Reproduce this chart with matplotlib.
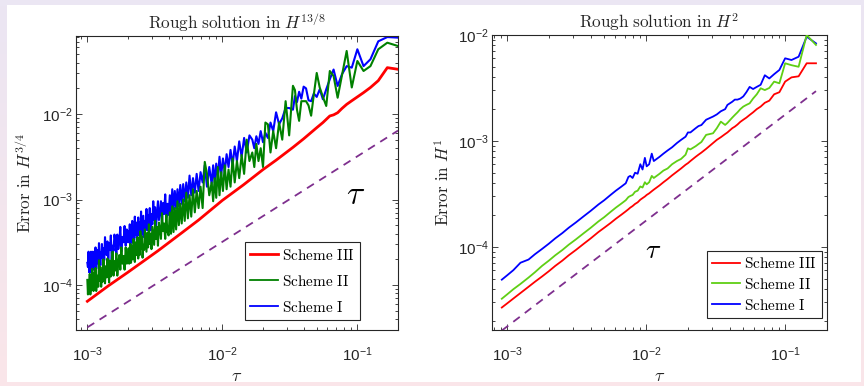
import numpy as np
import matplotlib
matplotlib.use("Agg")
import matplotlib.pyplot as plt
from matplotlib.patches import Rectangle

plt.rcParams['font.family'] = ['Liberation Sans', 'DejaVu Sans']
plt.rcParams['mathtext.fontset'] = 'cm'

# ---------------- data (errors given as log10 values) -------------
# Left panel: rough solution in H^{13/8}, error in H^{3/4};  tau = 1/N
left_noisy_steps = [5, 6, 7, 8, 9, 10, 11, 12, 13, 14, 15, 16, 17, 18, 19, 20, 21, 22, 23, 24, 25, 26, 27, 28, 29, 30,
                    32, 34, 36, 38, 40, 42, 44, 46, 48, 50, 52, 54, 56, 58, 60,
                    63, 66, 69, 72, 75, 78, 81, 84, 87, 90, 93, 96, 99, 102, 105, 108, 111, 114, 117, 120,
                    125, 130, 135, 140, 145, 150, 155, 160, 165, 170, 175, 180, 185, 190, 195, 200, 205, 210,
                    215, 220, 225, 230, 235, 240, 245, 250,
                    255, 260, 265, 270, 275, 280, 285, 290, 295, 300, 305, 310, 315, 320, 325, 330, 335, 340,
                    345, 350, 355, 360, 365, 370, 375, 380, 385, 390, 395, 400, 405, 410, 415, 420, 425, 430,
                    435, 440, 445, 450, 455, 460, 465, 470, 475, 480, 485, 490, 495, 500,
                    510, 520, 530, 540, 550, 560, 570, 580, 590, 600, 610, 620, 630, 640, 650, 660, 670, 680,
                    690, 700, 710, 720, 730, 740, 750, 760, 770, 780, 790, 800, 810, 820, 830, 840, 850, 860,
                    870, 880, 890, 900, 910, 920, 930, 940, 950, 960, 970, 980, 990, 1000]
left_scheme1_log10 = [-1.107, -1.10, -1.15, -1.36, -1.44, -1.243, -1.458, -1.44, -1.535, -1.672, -1.48, -1.594, -1.711,
                      -1.828, -1.711, -1.80, -1.76, -1.85, -1.84, -1.70, -1.68, -1.82, -1.74, -1.86, -1.79, -1.95,
                      -1.93, -1.93, -2.05, -2.12, -1.98, -2.20, -2.10, -2.28, -2.22, -2.33, -2.20, -2.35, -2.26, -2.40, -2.30,
                      -2.25, -2.45, -2.28, -2.50, -2.32, -2.55, -2.38, -2.60, -2.42, -2.62, -2.47, -2.68, -2.52, -2.72,
                      -2.50, -2.75, -2.58, -2.80, -2.60, -2.82,
                      -2.62, -2.85, -2.60, -2.80, -2.68, -2.90, -2.70, -2.92, -2.75, -2.95, -2.72, -2.98, -2.80, -3.02,
                      -2.82, -3.05, -2.83, -3.08, -2.88, -3.10, -2.90, -3.12, -2.88, -3.15, -2.95, -3.18,
                      -3.05, -3.21, -2.94, -3.17, -3.04, -3.27, -3.02, -3.16, -3.24, -3.02, -3.17, -3.31, -3.09, -3.24,
                      -3.02, -3.29, -3.17, -3.36, -3.10, -3.27, -3.18, -3.36, -3.11, -3.34, -3.25, -3.44, -3.19, -3.30,
                      -3.42, -3.14, -3.35, -3.27, -3.42, -3.21, -3.33, -3.48, -3.27, -3.41, -3.20, -3.45, -3.34, -3.50,
                      -3.25, -3.41, -3.33, -3.53, -3.29, -3.46, -3.37, -3.50,
                      -3.35, -3.54, -3.31, -3.50, -3.44, -3.61, -3.32, -3.50, -3.58, -3.41, -3.64, -3.48, -3.41, -3.60,
                      -3.54, -3.70, -3.42, -3.59, -3.51, -3.70, -3.49, -3.65, -3.59, -3.44, -3.71, -3.57, -3.77, -3.52,
                      -3.68, -3.62, -3.77, -3.51, -3.75, -3.59, -3.69, -3.81, -3.56, -3.75, -3.66, -3.82, -3.61, -3.74,
                      -3.86, -3.61, -3.80, -3.67, -3.85, -3.61, -3.79, -3.74]
left_scheme2_log10 = [-1.205, -1.166, -1.243, -1.44, -1.497, -1.38, -1.69, -1.263, -1.55, -1.81, -1.556, -1.497, -1.906,
                      -1.80, -1.69, -1.52, -1.77, -2.02, -1.90, -1.85, -1.85, -1.85, -2.08, -1.95, -1.72, -1.67,
                      -2.25, -1.85, -2.30, -2.10, -2.40, -2.20, -2.45, -2.12, -2.10, -2.62, -2.40, -2.55, -2.35, -2.62, -2.45,
                      -2.55, -2.30, -2.70, -2.48, -2.75, -2.55, -2.80, -2.52, -2.85, -2.65, -2.88, -2.60, -2.90, -2.68,
                      -2.95, -2.62, -2.98, -2.75, -3.02, -2.80,
                      -2.95, -2.70, -2.56, -3.10, -2.85, -3.10, -2.90, -3.15, -2.88, -3.20, -2.95, -3.22, -2.92, -3.25,
                      -3.00, -3.28, -3.05, -3.30, -3.02, -3.35, -3.10, -3.38, -3.08, -3.40, -3.15, -3.42,
                      -3.38, -3.18, -3.46, -3.28, -3.37, -3.16, -3.46, -3.35, -3.27, -3.54, -3.32, -3.46, -3.25, -3.53,
                      -3.43, -3.32, -3.58, -3.40, -3.52, -3.29, -3.56, -3.39, -3.61, -3.47, -3.35, -3.59, -3.53, -3.68,
                      -3.43, -3.58, -3.37, -3.65, -3.51, -3.69, -3.44, -3.59, -3.65, -3.50, -3.73, -3.57, -3.46, -3.70,
                      -3.55, -3.67, -3.74, -3.52, -3.66, -3.75, -3.57, -3.72,
                      -3.75, -3.56, -3.82, -3.66, -3.75, -3.56, -3.82, -3.65, -3.74, -3.89, -3.63, -3.83, -3.72, -3.89,
                      -3.61, -3.83, -3.90, -3.71, -3.97, -3.81, -3.69, -3.91, -3.78, -3.98, -3.87, -3.70, -3.96, -3.83,
                      -4.02, -3.79, -3.95, -3.71, -4.02, -3.89, -3.95, -4.07, -3.80, -4.01, -3.86, -4.07, -3.95, -3.81,
                      -4.06, -3.92, -4.11, -3.87, -4.04, -3.96, -4.11, -3.94]
left_red_steps = [5, 6, 7, 8, 9, 10, 11, 12, 13, 14, 15, 16, 18, 20, 25, 30, 40, 50, 70, 100, 150, 200, 300, 500, 700, 1000]
left_scheme3_log10 = [-1.477, -1.458, -1.61, -1.69, -1.75, -1.80, -1.845, -1.887, -1.935, -1.985, -2.01, -2.023, -2.10,
                      -2.16, -2.29, -2.39, -2.54, -2.65, -2.83, -3.01, -3.24, -3.39, -3.60, -3.85, -4.01, -4.19]
left_ref_tau = [1e-3, 0.2]
left_ref_err = [3.2e-5, 6.4e-3]

# Right panel: rough solution in H^2, error in H^1
right_steps = [6, 7, 8, 9, 10, 11, 12, 13, 14, 15, 16, 17, 18, 19, 20, 21, 22, 23, 24, 26, 27, 29, 31, 33, 37, 40, 42,
               44, 48, 50, 52, 56, 60, 65, 70, 75, 80, 88, 91, 95, 99, 102, 106, 110, 115, 120, 125, 130, 134, 140,
               150, 165, 180, 200, 220, 250, 280, 320, 360, 400, 450, 500, 560, 630, 700, 800, 900, 1000, 1090]
right_scheme1_log10 = [-2.079, -2.016, -2.205, -2.236, -2.22, -2.33, -2.37, -2.41, -2.38, -2.47, -2.49, -2.51, -2.49,
                       -2.54, -2.58, -2.60, -2.61, -2.61, -2.63, -2.66, -2.70, -2.72, -2.75, -2.77, -2.80, -2.85, -2.86,
                       -2.88, -2.92, -2.92, -2.96, -2.99, -3.02, -3.06, -3.09, -3.12, -3.15, -3.19, -3.12, -3.22, -3.24,
                       -3.16, -3.27, -3.22, -3.31, -3.30, -3.35, -3.33, -3.34, -3.40, -3.43, -3.47, -3.51, -3.56, -3.60,
                       -3.66, -3.71, -3.77, -3.82, -3.87, -3.92, -3.97, -4.02, -4.07, -4.12, -4.15, -4.22, -4.27, -4.31]
right_scheme2_log10 = [-2.094, -2.00, -2.30, -2.285, -2.267, -2.456, -2.44, -2.50, -2.52, -2.503, -2.56, -2.60, -2.645,
                       -2.66, -2.676, -2.70, -2.73, -2.755, -2.78, -2.83, -2.849, -2.818, -2.88, -2.928, -2.943, -3.01,
                       -3.03, -3.05, -3.08, -3.07, -3.13, -3.17, -3.19, -3.22, -3.26, -3.28, -3.31, -3.35, -3.33, -3.39,
                       -3.41, -3.39, -3.44, -3.43, -3.47, -3.48, -3.51, -3.52, -3.53, -3.56, -3.59, -3.63, -3.67, -3.72,
                       -3.76, -3.82, -3.87, -3.93, -3.98, -4.03, -4.08, -4.13, -4.18, -4.24, -4.29, -4.35, -4.40, -4.45,
                       -4.49]
right_scheme3_log10 = [-2.267, -2.267, -2.39, -2.40, -2.44, -2.54, -2.56, -2.62, -2.64, -2.676, -2.70, -2.73, -2.755,
                       -2.78, -2.80, -2.82, -2.845, -2.865, -2.88, -2.92, -2.935, -2.965, -2.99, -3.02, -3.075, -3.11,
                       -3.13, -3.15, -3.19, -3.21, -3.225, -3.26, -3.29, -3.325, -3.36, -3.39, -3.42, -3.46, -3.475,
                       -3.495, -3.51, -3.525, -3.54, -3.555, -3.58, -3.595, -3.615, -3.63, -3.645, -3.665, -3.695,
                       -3.735, -3.775, -3.82, -3.86, -3.92, -3.97, -4.03, -4.08, -4.13, -4.18, -4.23, -4.28, -4.33,
                       -4.377, -4.436, -4.488, -4.535, -4.573]
right_ref_tau = [1 / 1090, 1 / 6]
right_ref_err = [1.62e-5, 2.95e-3]

labels = ['Scheme III', 'Scheme II', 'Scheme I']

# ---------------- figure ----------------
W, H = 864, 386
fig = plt.figure(figsize=(W / 100, H / 100), dpi=100)

# page background (lavender to pink) with white canvas
bg = fig.add_axes([0, 0, 1, 1], zorder=-10)
top_c = np.array([0xeb, 0xe6, 0xf3]) / 255
bot_c = np.array([0xfa, 0xe5, 0xe9]) / 255
t = np.linspace(0, 1, 64)[:, None]
grad = (top_c[None, :] * (1 - t) + bot_c[None, :] * t)[:, None, :]
bg.imshow(grad, aspect='auto', extent=[0, 1, 0, 1], origin='upper')
bg.add_patch(Rectangle((7 / W, 4 / H), (861 - 7) / W, (381 - 4) / H, facecolor='white', edgecolor='none'))
bg.set_xlim(0, 1); bg.set_ylim(0, 1); bg.axis('off')

axL = fig.add_axes([76 / W, (H - 330) / H, 322 / W, 294 / H])
axR = fig.add_axes([492 / W, (H - 330) / H, 335 / W, 295 / H])

purple = '#7e2f8e'
ink = '#262626'


def to_tau(steps):
    return 1.0 / np.asarray(steps, dtype=float)


def to_err(lg):
    return 10.0 ** np.asarray(lg, dtype=float)


# left
axL.plot(to_tau(left_noisy_steps), to_err(left_scheme1_log10), color='#0000ff', lw=1.5, zorder=2)
axL.plot(to_tau(left_noisy_steps), to_err(left_scheme2_log10), color='#008000', lw=1.5, zorder=3)
axL.plot(to_tau(left_red_steps), to_err(left_scheme3_log10), color='#ff0000', lw=2.0, zorder=4)
axL.plot(left_ref_tau, left_ref_err, color=purple, lw=1.3, ls=(0, (4.5, 3.5)), zorder=2)
hL = [plt.Line2D([], [], color='#ff0000', lw=2.0),
      plt.Line2D([], [], color='#008000', lw=1.3),
      plt.Line2D([], [], color='#0000ff', lw=1.3)]

# right
axR.plot(to_tau(right_steps), to_err(right_scheme1_log10), color='#0000ff', lw=1.3, zorder=2)
axR.plot(to_tau(right_steps), to_err(right_scheme2_log10), color='#5fcf14', lw=1.3, zorder=3)
axR.plot(to_tau(right_steps), to_err(right_scheme3_log10), color='#ff0000', lw=1.3, zorder=4)
axR.plot(right_ref_tau, right_ref_err, color=purple, lw=1.3, ls=(0, (4.5, 3.5)), zorder=2)
hR = [plt.Line2D([], [], color='#ff0000', lw=1.3),
      plt.Line2D([], [], color='#5fcf14', lw=1.3),
      plt.Line2D([], [], color='#0000ff', lw=1.3)]

for ax in (axL, axR):
    ax.set_xscale('log')
    ax.set_yscale('log')
    ax.tick_params(which='both', direction='in', top=True, right=True, colors=ink, labelsize=11, width=0.6)
    ax.tick_params(which='major', length=4.5)
    ax.tick_params(which='minor', length=2.5)
    ax.tick_params(axis='x', which='both', pad=11)
    ax.tick_params(axis='y', which='both', pad=2.5)
    for s in ax.spines.values():
        s.set_color(ink)
        s.set_linewidth(0.8)
    ax.set_xticks([1e-3, 1e-2, 1e-1])
    ax.set_xlabel(r'$\tau$', fontsize=13, color=ink, labelpad=3)

axL.set_xlim(8.24e-4, 0.2)
axL.set_ylim(2.98e-5, 8.17e-2)
axL.set_yticks([1e-4, 1e-3, 1e-2])
axR.set_xlim(7.8e-4, 0.2)
axR.set_ylim(1.64e-5, 1e-2)
axR.set_yticks([1e-4, 1e-3, 1e-2])

axL.set_title(r'$\mathrm{Rough\ solution\ in\ }H^{13/8}$', fontsize=12.3, color=ink, pad=5)
axR.set_title(r'$\mathrm{Rough\ solution\ in\ }H^{2}$', fontsize=12.3, color=ink, pad=5)
axL.set_ylabel(r'$\mathrm{Error\ in\ }H^{3/4}$', fontsize=12.3, color=ink)
axR.set_ylabel(r'$\mathrm{Error\ in\ }H^{1}$', fontsize=12.3, color=ink)
axL.yaxis.set_label_coords(-0.13, 0.5)
axR.yaxis.set_label_coords(-0.12, 0.5)

axL.text(0.0977, 1.1e-3, r'$\tau$', fontsize=24, ha='center', va='center', color='black')
axR.text(0.0112, 9.2e-5, r'$\tau$', fontsize=20, ha='center', va='center', color='black')

leg_labels = [r'$\mathrm{%s}$' % s.replace(' ', r'\ ') for s in labels]
for ax, hh, anchor, spacing in ((axL, hL, (0.525, 0.034), 0.72), (axR, hR, (0.642, 0.041), 0.38)):
    lg = ax.legend(hh, leg_labels, loc='lower left', bbox_to_anchor=anchor, fontsize=11,
                   handlelength=1.8, handletextpad=0.25, labelspacing=spacing, borderpad=0.35,
                   borderaxespad=0, fancybox=False, framealpha=1, edgecolor=ink)
    lg.get_frame().set_linewidth(0.8)

fig.savefig('out.png', dpi=100)
